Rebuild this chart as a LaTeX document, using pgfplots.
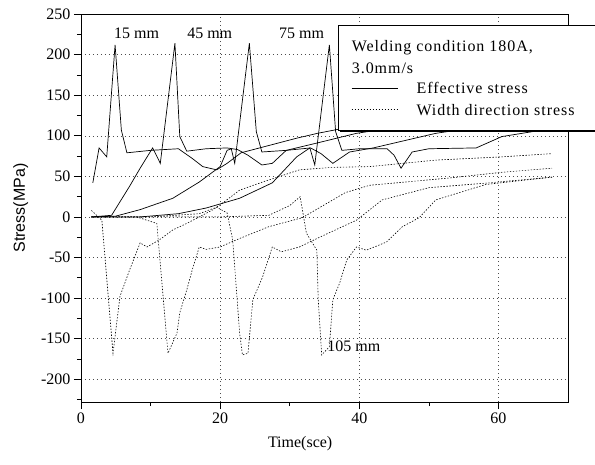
\documentclass[border=0pt]{standalone}
\usepackage{fontspec}
\setmainfont{Liberation Serif}
\newfontfamily\sansf{Liberation Sans}
\usepackage{pgfplots}
\pgfplotsset{compat=1.18}
\usetikzlibrary{calc}

\tikzset{
  eff/.style={black, line width=0.7pt},
  wid/.style={black, line width=0.6pt, dash pattern=on 1.4pt off 1.6pt},
}

\begin{document}
\begin{tikzpicture}
\begin{axis}[
  name=ax,
  width=487pt, height=388pt, scale only axis,
  xmin=0, xmax=70, ymin=-228, ymax=250,
  xtick={0,20,40,60}, minor xtick={10,30,50},
  ytick={-200,-150,...,250}, minor ytick={-225,-175,...,225},
  tick align=outside, major tick length=7pt, minor tick length=4pt,
  xtick pos=bottom, ytick pos=left,
  axis line style={line width=0.9pt},
  tick style={black, line width=0.7pt},
  grid=major,
  major grid style={black!70, line width=0.5pt, dash pattern=on 0.8pt off 3.2pt},
  tick label style={font=\fontsize{16}{19}\selectfont},
  /pgf/number format/assume math mode=true,
  xlabel={Time(sce)},
  ylabel={\sansf Stress(MPa)},
  label style={font=\fontsize{16}{19}\selectfont},
  xlabel style={at={(ticklabel cs:0.45)}, anchor=near ticklabel, yshift=-6pt},
  ylabel style={yshift=6pt},
  clip=false,
]
% effective stress, 15 mm
\addplot[eff] coordinates {(1.7,42) (2.6,85) (3.7,74) (4.9,212) (5.8,107) (6.6,79) (10,82) (14,84) (16,72) (17.5,62) (19.5,58) (21,66) (23,79) (27,88) (31,97) (34,103) (37,108) (45,114) (55,118) (67,122)};
% effective stress, 45 mm
\addplot[eff] coordinates {(1.5,0) (4.4,2) (7,38) (8.5,60) (10.3,85) (11.4,66) (13.5,214) (14.2,99) (15.2,81) (18,84) (21,85) (22.5,83) (24,76) (26,64) (27.5,66) (29.5,82) (33.9,91) (39.6,103) (45,110) (55,115) (67,120)};
% effective stress, 75 mm
\addplot[eff] coordinates {(1.5,0) (5,1) (8.5,9) (13.2,23) (17,43) (20,62) (21,82) (21.6,84) (22.1,66) (24.2,214) (25.2,105) (26,80) (29.5,82) (33,85) (34.5,78) (36.2,66) (38.6,80) (42,85) (46,93) (51,103) (55,108) (67,115)};
% effective stress, 105 mm
\addplot[eff] coordinates {(1.5,0) (8.5,0) (14,4) (18,11) (22.8,23) (27.5,42) (31,74) (32.9,85) (33.6,64) (35.7,212) (36.6,105) (37.5,82) (40,84) (44,84) (45,76) (46,60) (47.6,80) (50,84) (56.8,85) (60.5,99) (63.4,103) (67,108)};
% width direction stress, 15 mm
\addplot[wid] coordinates {(1.5,8) (3,-4) (4.6,-168) (5.6,-98) (7,-65) (8.5,-32) (9.5,-37) (11.3,-28) (13.2,-16) (15.2,-8) (19,9) (20.5,18) (22.8,33) (26.1,43) (31.4,58) (36,61) (41.5,62) (51,70) (60.5,74) (67.7,78)};
% width direction stress, 45 mm
\addplot[wid] coordinates {(1.5,0) (8,0) (10.9,-8) (12.5,-168) (13.8,-143) (14.2,-118) (15.2,-90) (16,-65) (17,-37) (18,-40) (20,-37) (22.4,-28) (27,-12) (31.8,-1) (35,15) (38,30) (41.5,39) (53,48) (60.5,55) (67.7,60)};
% width direction stress, 75 mm
\addplot[wid] coordinates {(1.5,0) (10,0) (17,4) (19.5,12) (21,5) (21.8,-28) (22.1,-62) (22.8,-143) (23.2,-170) (24,-168) (24.7,-102) (26.1,-74) (27.5,-37) (28.8,-43) (31.4,-37) (34.3,-25) (39.6,-4) (43.3,21) (50,36) (58.7,42) (67.7,49)};
% width direction stress, 105 mm
\addplot[wid] coordinates {(1.5,0) (20,0) (27,2) (30,14) (31.5,25) (32.4,-20) (33.9,-41) (34.1,-102) (34.6,-170) (35.7,-160) (36.2,-102) (37.2,-81) (38.2,-53) (39.6,-37) (41,-41) (43.9,-31) (46.2,-12) (48.6,-1) (51,21) (58.2,40) (67.7,49)};

% position labels
\node[font=\fontsize{16}{19}\selectfont] at (axis cs:8.0,226) {15 mm};
\node[font=\fontsize{16}{19}\selectfont] at (axis cs:18.5,226) {45 mm};
\node[font=\fontsize{16}{19}\selectfont] at (axis cs:31.7,226) {75 mm};
\node[font=\fontsize{16}{19}\selectfont, anchor=west, inner sep=0pt] at (axis cs:35.4,-159) {105 mm};

% legend box
\draw[fill=white, line width=0.7pt] (axis cs:37,107) rectangle (axis cs:76,236.5);
\draw[line width=2.2pt] (axis cs:37.2,106) -- (axis cs:76,106);
\begin{scope}[every node/.style={font=\fontsize{16}{19}\selectfont\addfontfeatures{LetterSpace=6}, anchor=west, inner sep=0pt}]
\node at (axis cs:38.9,208) {Welding condition 180A,};
\node at (axis cs:38.9,183.5) {3.0mm/s};
\draw[eff] (axis cs:38.9,159) -- (axis cs:45.5,159);
\node at (axis cs:48.2,159) {Effective stress};
\draw[wid] (axis cs:38.9,132) -- (axis cs:45.5,132);
\node at (axis cs:48.2,132) {Width direction stress};
\end{scope}
\end{axis}
\pgfresetboundingbox
\path[use as bounding box] ($(ax.south west)+(-81pt,-62pt)$) rectangle ($(ax.south west)+(514pt,402pt)$);
\end{tikzpicture}
\end{document}
